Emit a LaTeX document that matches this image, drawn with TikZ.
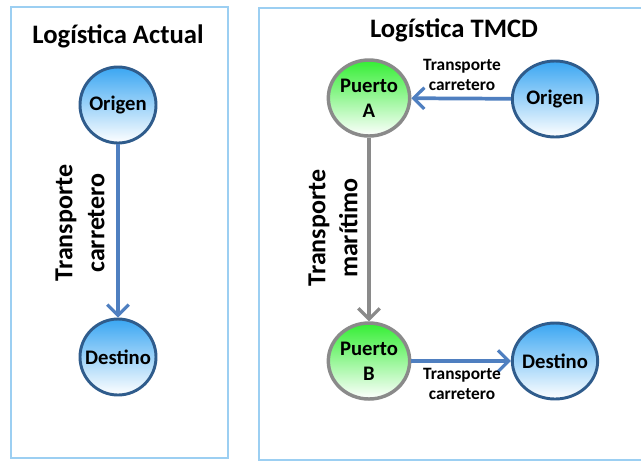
\documentclass[tikz,border=0pt]{standalone}
\usepackage{fontspec}
\setmainfont{Carlito}
\usetikzlibrary{arrows.meta,shapes.geometric}
\definecolor{boxblue}{HTML}{9CCFF2}
\definecolor{nodeblue}{HTML}{3AA6F2}
\definecolor{edgeblue}{HTML}{2F5C8C}
\definecolor{arrowblue}{HTML}{4F7FC0}
\definecolor{portgreen}{HTML}{33EE33}
\definecolor{portgrey}{HTML}{8A8A8A}
\begin{document}
\begin{tikzpicture}[x=0.75pt, y=-0.75pt, font=\bfseries]
\tikzstyle{panel}=[draw=boxblue, line width=2pt]
\tikzstyle{title}=[font=\fontsize{20}{24}\bfseries\selectfont]
\tikzstyle{place}=[ellipse, draw=edgeblue, line width=2.2pt, top color=nodeblue, bottom color=white,
  inner sep=-6pt, font=\fontsize{15.5}{19}\bfseries\selectfont, align=center]
\tikzstyle{port}=[place, draw=portgrey, line width=2.6pt, top color=portgreen, bottom color=white]
\tikzstyle{road}=[draw=arrowblue, line width=2.8pt, -{Straight Barb[length=8pt, width=16pt, line width=2.4pt]}]
\tikzstyle{sea}=[road, draw=portgrey, line width=3.4pt]
\tikzstyle{biglabel}=[rotate=90, align=center, font=\fontsize{19.5}{24}\bfseries\selectfont]
\tikzstyle{smalllabel}=[align=center, font=\fontsize{13}{15}\bfseries\selectfont]
\useasboundingbox (0,0) rectangle (641,462);
% panels
\draw[panel] (11,7) rectangle (228,458);
\draw[panel] (259,8) rectangle (660,460);
\node[title] (t1) at (118,36) {Logística Actual};
\node[title] (t2) at (454,30) {Logística TMCD};
% current logistics
\node[place, minimum width=57pt, minimum height=57pt] (o1) at (118,105) {Origen};
\node[place, minimum width=57pt, minimum height=57pt] (d1) at (118,357) {Destino};
\draw[road] (o1) -- (d1);
\node[biglabel] (l1) at (80,223) {Transporte\\carretero};
% TMCD logistics
\node[port, minimum width=61pt, minimum height=57pt] (pa) at (369,98) {Puerto\\A};
\node[place, minimum width=64pt, minimum height=57pt] (o2) at (555,99) {Origen};
\node[port, minimum width=61pt, minimum height=57pt] (pb) at (369,361) {Puerto\\B};
\node[place, minimum width=64pt, minimum height=57pt] (d2) at (555,361) {Destino};
\draw[road] (o2) -- (pa);
\draw[sea] (pa) -- (pb);
\draw[road] (pb) -- (d2);
\node[smalllabel] (l2) at (462,75) {Transporte\\carretero};
\node[smalllabel] (l3) at (462,384) {Transporte\\carretero};
\node[biglabel] (l4) at (333,228) {Transporte\\marítimo};
\end{tikzpicture}
\end{document}
